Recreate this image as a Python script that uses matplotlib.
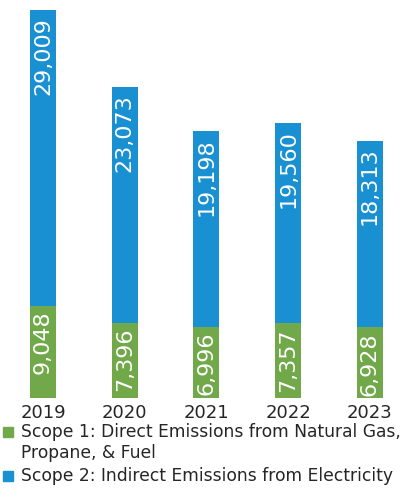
import matplotlib
matplotlib.use("Agg")
import matplotlib.pyplot as plt
from matplotlib.patches import Rectangle

years = ["2019", "2020", "2021", "2022", "2023"]
scope1 = [9048, 7396, 6996, 7357, 6928]
scope2 = [29009, 23073, 19198, 19560, 18313]
legend_lines = [["Scope 1: Direct Emissions from Natural Gas,", "Propane, & Fuel"],
                ["Scope 2: Indirect Emissions from Electricity"]]

green = "#71a84a"
blue = "#1990d2"

W, H = 400, 501
fig = plt.figure(figsize=(W / 100, H / 100), dpi=100)
# axes spans from the top of the figure down to the bar baseline
base_y = 398
ax = fig.add_axes([0, 1 - base_y / H, 1, base_y / H])

x = list(range(len(years)))
ax.bar(x, scope1, width=0.32, color=green)
ax.bar(x, scope2, width=0.32, bottom=scope1, color=blue)

ax.set_xlim(-0.526, 4.37)
ax.set_ylim(0, 39020)
ax.axis("off")

for i in x:
    ax.text(i, scope1[i] - 500, "{:,}".format(scope1[i]), rotation=90,
            ha="center", va="top", color="white", fontsize=16)
    top = scope1[i] + scope2[i]
    ax.text(i, top - 700, "{:,}".format(scope2[i]), rotation=90,
            ha="center", va="top", color="white", fontsize=16)
    ax.text(i, -600, years[i], ha="center", va="top", fontsize=13,
            color="#262626")

# legend
colors = [green, blue]
square_top = [427, 471]
baselines = [[437, 458], [481]]
for k in range(2):
    fig.patches.append(Rectangle((3 / W, 1 - (square_top[k] + 10) / H), 10 / W, 10 / H,
                                 transform=fig.transFigure, color=colors[k]))
    for line, yb in zip(legend_lines[k], baselines[k]):
        fig.text(21 / W, 1 - yb / H, line, fontsize=12.3, color="#262626",
                 va="baseline")

plt.savefig("out.png", dpi=100)
